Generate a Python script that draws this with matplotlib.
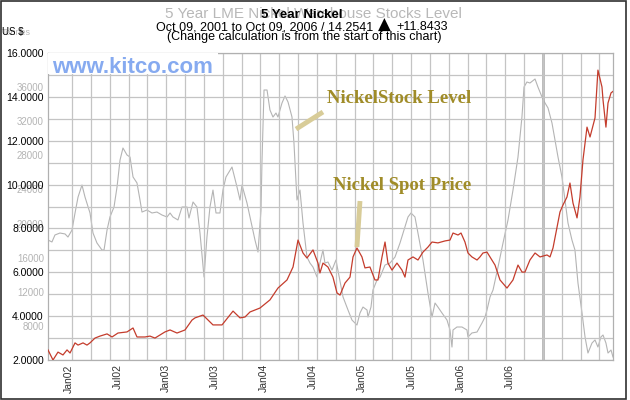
import matplotlib
matplotlib.use("Agg")
import matplotlib.pyplot as plt
from matplotlib.patches import Rectangle
from matplotlib.ticker import MultipleLocator, FixedLocator

# x positions are months since Oct 09, 2001 (0 .. 60 = Oct 09, 2006)
PRICE_MONTHS = [
    0.00, 0.53, 1.06, 1.59, 2.02, 2.34, 2.87, 3.19, 3.72, 4.14, 4.46, 4.99,
    5.52, 6.27, 6.80, 7.43, 8.39, 9.03, 9.45, 10.30, 10.83, 11.36, 12.42,
    12.96, 13.70, 14.55, 15.29, 15.61, 16.46, 17.52, 18.48, 19.65, 20.39,
    20.92, 21.45, 22.51, 23.57, 24.42, 25.38, 26.02, 26.55, 27.08, 27.50,
    28.14, 28.67, 28.88, 29.20, 29.73, 30.26, 30.69, 31.01, 31.54, 32.07,
    32.39, 32.81, 33.34, 33.66, 34.19, 34.72, 35.04, 35.47, 35.79, 36.10,
    36.53, 37.06, 37.59, 37.91, 38.23, 38.76, 39.29, 39.82, 40.35, 40.78,
    41.41, 42.16, 42.69, 43.01, 43.54, 43.86, 44.28, 44.60, 45.02, 45.56,
    45.87, 46.19, 46.62, 47.47, 48.00, 48.74, 49.38, 49.91, 50.34, 50.65,
    51.18, 51.72, 52.25, 52.99, 53.31, 53.63, 54.37, 54.69, 55.11, 55.43,
    55.75, 56.18, 56.49, 56.81, 57.24, 57.56, 58.09, 58.40, 58.83, 58.94,
    59.25, 59.47, 59.79, 60.00,
]
# nickel spot price, US $ per lb
PRICE_VALUES = [
    2.46, 2.00, 2.36, 2.23, 2.46, 2.32, 2.78, 2.68, 2.78, 2.68, 2.78, 3.00,
    3.09, 3.19, 3.05, 3.23, 3.28, 3.46, 3.05, 3.05, 3.09, 3.00, 3.28,
    3.37, 3.23, 3.37, 3.82, 3.92, 4.05, 3.60, 3.60, 4.23, 3.92,
    3.96, 4.19, 4.37, 4.74, 5.28, 5.65, 6.24, 7.47, 6.88, 6.65,
    7.02, 6.42, 5.97, 6.42, 6.24, 5.78, 5.06, 4.96, 5.51, 5.78,
    6.70, 7.11, 6.70, 6.20, 6.24, 5.65, 5.65, 6.70, 7.38, 6.42,
    6.10, 6.42, 6.10, 5.78, 6.56, 6.70, 6.56, 6.92, 7.15, 7.38,
    7.34, 7.43, 7.47, 7.79, 7.70, 7.79, 7.38, 6.88, 6.70, 6.56,
    6.70, 6.88, 6.92, 6.33, 5.65, 5.28, 5.65, 6.33, 6.01, 6.01,
    6.56, 6.88, 6.70, 6.79, 6.70, 7.11, 8.75, 9.07, 9.43, 10.07,
    9.16, 8.48, 9.43, 11.12, 12.62, 12.17, 13.04, 15.22, 14.45, 13.86,
    12.62, 13.72, 14.18, 14.25,
]

STOCK_MONTHS = [
    0.00, 0.42, 0.74, 1.27, 1.81, 2.12, 2.55, 2.87, 3.19, 3.61, 3.93, 4.46,
    4.78, 5.20, 5.73, 5.95, 6.27, 6.58, 7.01, 7.33, 7.65, 7.96, 8.39, 8.71,
    9.03, 9.45, 9.77, 9.98, 10.51, 11.04, 11.57, 12.11, 12.64, 12.96, 13.27,
    13.80, 14.23, 14.76, 14.97, 15.40, 15.82, 16.14, 16.57, 16.88, 17.20,
    17.52, 17.84, 18.26, 18.58, 18.90, 19.54, 20.07, 20.39, 20.60, 21.13,
    21.45, 21.98, 22.30, 22.62, 22.72, 22.94, 23.26, 23.57, 23.89, 24.21,
    24.42, 24.85, 25.17, 25.49, 25.91, 26.12, 26.34, 26.44, 26.76, 27.08,
    27.50, 27.82, 28.14, 28.57, 28.78, 29.20, 29.41, 29.73, 30.16, 30.58,
    31.33, 31.86, 32.28, 32.81, 33.13, 33.45, 33.88, 33.98, 34.30, 34.51,
    34.94, 35.26, 35.79, 36.32, 36.85, 37.38, 37.91, 38.23, 38.55, 38.97,
    39.29, 39.82, 40.35, 40.78, 41.10, 41.41, 41.84, 42.37, 42.69, 42.90,
    43.01, 43.43, 43.96, 44.49, 44.60, 45.02, 45.56, 46.09, 46.41, 46.62,
    46.94, 47.26, 47.79, 48.32, 48.85, 49.38, 49.91, 50.33, 50.55, 50.86,
    51.18, 51.72, 52.03, 52.46, 52.78, 53.10, 53.52, 53.84, 54.16, 54.58,
    54.90, 55.22, 55.64, 55.96, 56.28, 56.71, 57.03, 57.34, 57.77, 58.09,
    58.40, 58.72, 58.94, 59.25, 59.47, 59.79, 60.00,
]
# LME nickel warehouse stocks, tonnes
STOCK_VALUES = [
    18070, 17840, 18660, 18890, 18780, 18420, 19240, 21240, 23110, 24520, 23110, 21240,
    18890, 17720, 16900, 16900, 19240, 20770, 21940, 24290, 27450, 28860, 28040, 27800,
    25460, 24760, 22760, 21350, 21590, 21240, 21350, 21000, 20770, 21240, 20770,
    20420, 21940, 21940, 20650, 22530, 21940, 18890, 13730, 18420, 21940,
    23930, 21240, 21240, 23930, 25460, 26630, 24290, 22760, 24520, 22410,
    20770, 18070, 16660, 21590, 27100, 35660, 35660, 33320, 32490, 32960,
    32490, 34140, 34960, 34250, 32490, 29450, 24760, 22760, 23930, 20060,
    16080, 15370, 14900, 13730, 14900, 16900, 15370, 15490, 14550, 15730,
    11390, 9860, 8690, 8100, 9510, 10210, 9860, 9040, 10210, 12210,
    13380, 13730, 15140, 15370, 16080, 17720, 19600, 20770, 21240, 20770,
    18890, 15730, 11860, 9040, 10680, 10210, 9510, 8690, 7520, 5520,
    7520, 7870, 7870, 7520, 6700, 7170, 7280, 8340, 9040, 9860,
    11390, 12210, 14900, 17720, 20420, 23930, 27800, 32490, 36010, 36600,
    36480, 36950, 36010, 34840, 34140, 33550, 31790, 29800, 27800, 25460,
    22760, 20060, 18070, 16900, 13030, 9510, 6700, 4820, 5990, 6350,
    5520, 6700, 6930, 5990, 4820, 5170, 4350,
]

MONTH_TICKS = [2.26, 7.37, 12.53, 17.73, 22.94, 28.14, 33.34, 38.65, 43.85, 49.05]
MONTH_LABELS = ["Jan02", "Jul02", "Jan03", "Jul03", "Jan04", "Jul04",
                "Jan05", "Jul05", "Jan06", "Jul06"]
PRICE_TICKS = [2, 4, 6, 8, 10, 12, 14, 16]
STOCK_TICKS = [8000, 12000, 16000, 20000, 24000, 28000, 32000, 36000]

W, H = 630, 400
GRID = "#c4c4c4"
RED = "#c43c2c"
GRAY_LINE = "#b4b4b4"
GOLD = "#a08c28"
POINTER = "#d8cc98"
FONT = ["Liberation Sans", "DejaVu Sans"]

plt.rcParams["font.family"] = FONT

fig = plt.figure(figsize=(W / 100, H / 100), dpi=100)
ax = fig.add_axes([48 / W, 1 - 360 / H, 565 / W, 307 / H])
ax2 = ax.twinx()

# red on top, grid on the price axes
ax.set_zorder(ax2.get_zorder() + 1)
ax.patch.set_visible(False)

ax.set_xlim(0, 60)
ax.set_ylim(2, 16)
ax2.set_ylim(4000, 40000)

# vertical grid every two months, horizontal grid every 1 $
grid_months = [2.55 + 2 * k for k in range(29)]
ax.xaxis.set_minor_locator(FixedLocator(grid_months))
ax.yaxis.set_major_locator(FixedLocator(PRICE_TICKS))
ax.yaxis.set_minor_locator(MultipleLocator(1))
ax.grid(True, which="minor", axis="x", color=GRID, lw=0.9)
ax.grid(True, which="both", axis="y", color=GRID, lw=0.9)
ax.axvline(grid_months[25], color="#a8a8a8", lw=1.8, zorder=1)

ax2.plot(STOCK_MONTHS, STOCK_VALUES, color=GRAY_LINE, lw=0.8)
ax.plot(PRICE_MONTHS, PRICE_VALUES, color=RED, lw=0.9, zorder=3)

ax.set_xticks(MONTH_TICKS)
ax.set_xticklabels(MONTH_LABELS, rotation=90, fontsize=7.5, color="#333333")
ax.set_yticklabels([f"{v:.4f}" for v in PRICE_TICKS], fontsize=7.5, color="black")
ax.tick_params(axis="both", which="both", length=0, pad=3)

ax2.set_yticks(STOCK_TICKS)
ax2.set_yticklabels([str(v) for v in STOCK_TICKS], fontsize=7, color="#b4b4b4")
ax2.yaxis.set_ticks_position("left")
ax2.tick_params(axis="y", length=0, pad=3)

for s in ax.spines.values():
    s.set_color("#b0b0b0")
    s.set_linewidth(0.9)
for s in ax2.spines.values():
    s.set_visible(False)

# kitco watermark on a white strip
ax.add_patch(Rectangle((0, 0.932), 0.30, 0.068, transform=ax.transAxes,
                       facecolor="white", edgecolor="none", zorder=5))
ax.text(0.007, 0.936, "www.kitco.com", transform=ax.transAxes, fontsize=16,
        fontweight="bold", color="#86aaf0", va="baseline", ha="left", zorder=6)

# series labels with pointers
serif = ["Liberation Serif", "DejaVu Serif"]
ax.text(29.63, 13.72, "NickelStock Level", family=serif, fontsize=13.5,
        fontweight="bold", color=GOLD, va="baseline", zorder=6)
ax.plot([26.34, 29.20], [12.53, 13.31], color=POINTER, lw=3.5,
        solid_capstyle="butt", zorder=6)
ax.text(30.26, 9.75, "Nickel Spot Price", family=serif, fontsize=13.5,
        fontweight="bold", color=GOLD, va="baseline", zorder=6)
ax.plot([33.13, 32.81], [9.25, 7.15], color=POINTER, lw=3.5,
        solid_capstyle="butt", zorder=6)

# header
fig.text(313 / W, 1 - 18 / H, "5 Year LME Nickel Warehouse Stocks Level",
         ha="center", va="baseline", fontsize=11, color="#b8b8b8")
fig.text(302 / W, 1 - 18 / H, "5 Year Nickel", ha="center", va="baseline",
         fontsize=9.5, fontweight="bold", color="black")
fig.text(373 / W, 1 - 30 / H, "Oct 09, 2001 to Oct 09, 2006 / 14.2541",
         ha="right", va="baseline", fontsize=9, color="black")
fig.text(384 / W, 1 - 30 / H, "\u25b2", ha="center", va="baseline",
         fontsize=12, color="black", family=["DejaVu Sans"])
fig.text(396 / W, 1 - 30 / H, "+11.8433", ha="left", va="baseline",
         fontsize=9, color="black")
fig.text(304 / W, 1 - 40 / H,
         "(Change calculation is from the start of this chart)",
         ha="center", va="baseline", fontsize=9, color="black")
fig.text(2 / W, 1 - 35 / H, "Tonnes", ha="left", va="baseline",
         fontsize=6.5, color="#b8b8b8")
fig.text(2 / W, 1 - 35 / H, "US $", ha="left", va="baseline",
         fontsize=7, color="black")

# outer frame
fig.add_artist(Rectangle((1 / W, 1 / H), 625 / W, 398 / H,
                         transform=fig.transFigure, fill=False,
                         edgecolor="#303030", lw=1.2))

fig.savefig("out.png", dpi=100)
